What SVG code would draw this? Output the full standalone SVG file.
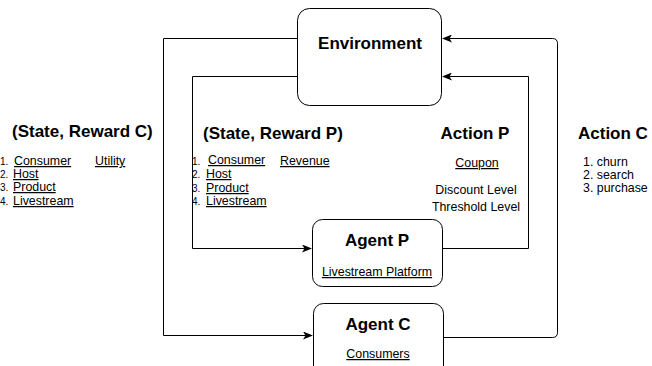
<svg xmlns="http://www.w3.org/2000/svg" width="652" height="366" viewBox="0 0 652 366">
<style>
text{font-family:"Liberation Sans",Arial,Helvetica,sans-serif;fill:#000}
.b{font-weight:bold;font-size:17px}
.t{font-size:12.4px}
.n{font-size:10px}
.u{text-decoration:underline}
.box{fill:#fff;stroke:#000;stroke-width:1}
.ln{fill:none;stroke:#000;stroke-width:1}
</style>
<defs>
<marker id="arr" viewBox="0 0 10 8" refX="9" refY="4" markerWidth="10" markerHeight="8" markerUnits="userSpaceOnUse" orient="auto">
<path d="M0,0 L10,4 L0,8 L2.5,4 z" fill="#000"/>
</marker>
</defs>
<g id="connectors">
<path class="ln" d="M298,38.5 H163.5 V335.5 H312" marker-end="url(#arr)"/>
<path class="ln" d="M298,76.5 H192.5 V248.5 H311" marker-end="url(#arr)"/>
<path class="ln" d="M442,248.5 H528.5 V76.5 H443" marker-end="url(#arr)"/>
<path class="ln" d="M443,337.5 H552.5 Q557.5,337.5 557.5,332.5 V43.5 Q557.5,38.5 552.5,38.5 H443" marker-end="url(#arr)"/>
</g>
<g id="environment">
<rect class="box" x="297.5" y="8.5" width="144" height="97" rx="12"/>
<text class="b" x="370" y="49" text-anchor="middle">Environment</text>
</g>
<g id="agent-p">
<rect class="box" x="312.5" y="219.5" width="130" height="67" rx="10"/>
<text class="b" x="377" y="246" text-anchor="middle">Agent P</text>
<text class="t u" x="377" y="276" text-anchor="middle">Livestream Platform</text>
</g>
<g id="agent-c">
<rect class="box" x="313.5" y="303.5" width="130" height="75" rx="10"/>
<text class="b" x="378" y="330" text-anchor="middle">Agent C</text>
<text class="t u" x="378" y="358" text-anchor="middle">Consumers</text>
</g>
<g id="state-reward-c">
<text class="b" x="12" y="137">(State, Reward C)</text>
<text class="n" x="0" y="165">1.</text><text class="t u" x="14" y="165">Consumer</text><text class="t u" x="95" y="165">Utility</text>
<text class="n" x="0" y="178">2.</text><text class="t u" x="13" y="178">Host</text>
<text class="n" x="0" y="191">3.</text><text class="t u" x="13" y="191">Product</text>
<text class="n" x="0" y="205">4.</text><text class="t u" x="13" y="205">Livestream</text>
</g>
<g id="state-reward-p">
<text class="b" x="203" y="139">(State, Reward P)</text>
<text class="n" x="192" y="165">1.</text><text class="t u" x="208" y="164">Consumer</text><text class="t u" x="280" y="165">Revenue</text>
<text class="n" x="192" y="178">2.</text><text class="t u" x="206" y="178">Host</text>
<text class="n" x="192" y="192">3.</text><text class="t u" x="206" y="192">Product</text>
<text class="n" x="192" y="205">4.</text><text class="t u" x="206" y="205">Livestream</text>
</g>
<g id="action-p">
<text class="b" x="475" y="139" text-anchor="middle">Action P</text>
<text class="t u" x="477" y="167" text-anchor="middle">Coupon</text>
<text class="t" x="476" y="194" text-anchor="middle">Discount Level</text>
<text class="t" x="476" y="211" text-anchor="middle">Threshold Level</text>
</g>
<g id="action-c">
<text class="b" x="578" y="139">Action C</text>
<text class="t" x="583" y="166">1. churn</text>
<text class="t" x="583" y="179">2. search</text>
<text class="t" x="583" y="192">3. purchase</text>
</g>
</svg>
